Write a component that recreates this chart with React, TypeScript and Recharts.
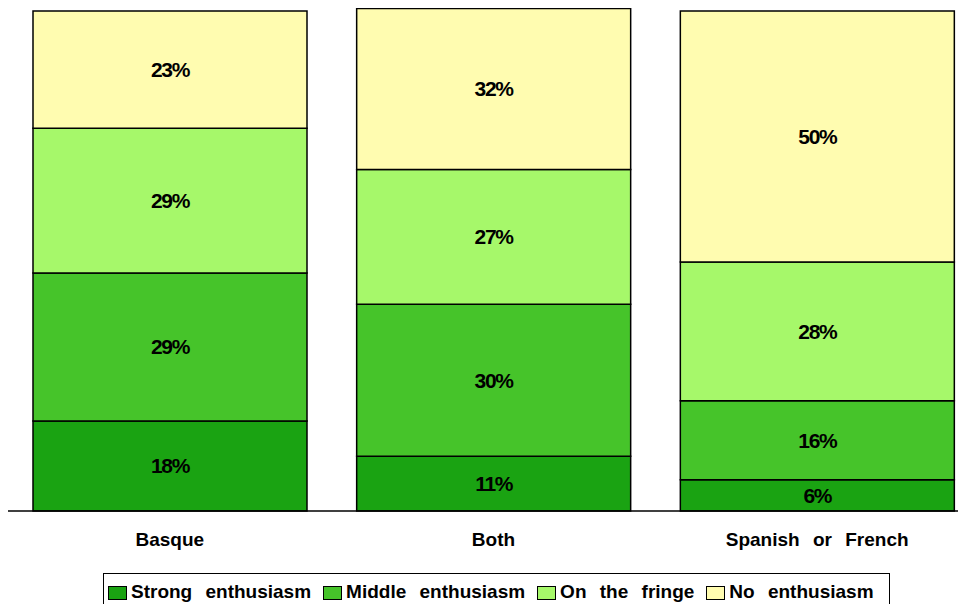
import React from 'react';
import { BarChart, Bar, XAxis, YAxis, Legend, LabelList } from 'recharts';

const categories = ['Basque', 'Both', 'Spanish or French'];
const strongEnthusiasm = [17.9, 10.9, 6.2];
const middleEnthusiasm = [29.4, 30.2, 15.7];
const onTheFringe = [28.8, 26.8, 27.6];
const noEnthusiasm = [23.3, 32.0, 49.9];

const seriesNames = ['Strong enthusiasm', 'Middle enthusiasm', 'On the fringe', 'No enthusiasm'];
const seriesKeys = ['strong', 'middle', 'fringe', 'none'];
const seriesColors = ['#1aa312', '#46c42a', '#a6f86a', '#fffcb0'];

const data = categories.map((c, i) => ({
  category: c,
  strong: strongEnthusiasm[i],
  middle: middleEnthusiasm[i],
  fringe: onTheFringe[i],
  none: noEnthusiasm[i],
}));

const FONT = '"Liberation Sans", Arial, sans-serif';

const LegendBox = () => (
  <div
    style={{
      boxSizing: 'border-box',
      width: 787,
      height: 37,
      border: '1.5px solid #000',
      display: 'flex',
      alignItems: 'flex-start',
      paddingLeft: 4,
      paddingTop: 8,
      fontFamily: FONT,
      fontWeight: 'bold',
      fontSize: 19,
      wordSpacing: 8,
      color: '#000',
      background: '#fff',
      whiteSpace: 'nowrap',
    }}
  >
    {seriesNames.map((n, i) => (
      <div key={n} style={{ display: 'flex', alignItems: 'center', marginRight: 12 }}>
        <span
          style={{
            display: 'inline-block',
            boxSizing: 'border-box',
            width: 19,
            height: 14,
            background: seriesColors[i],
            border: '1.5px solid #000',
            marginRight: 4,
            marginTop: 2,
          }}
        />
        <span style={{ lineHeight: '19px' }}>{n}</span>
      </div>
    ))}
  </div>
);

const fmt = (v: any) => `${Math.round(Number(v))}%`;

export default function App() {
  return (
    <div style={{ width: 958, height: 596, overflow: 'hidden', position: 'relative' }}>
      <BarChart
        width={971}
        height={602}
        data={data}
        margin={{ top: 0, right: 0, bottom: 0, left: 0 }}
      >
        <XAxis
          dataKey="category"
          axisLine={{ stroke: '#000', strokeWidth: 1.5 }}
          tickLine={false}
          tickSize={0}
          tickMargin={22}
          height={62}
          tick={{ fill: '#000', fontFamily: FONT, fontWeight: 'bold', fontSize: 19, style: { wordSpacing: 8 } }}
        />
        <YAxis hide domain={[0, 100]} />
        <Legend
          content={<LegendBox />}
          verticalAlign="bottom"
          wrapperStyle={{ left: 95, top: 565, width: 787, height: 37 }}
        />
        {seriesKeys.map((k, i) => (
          <Bar
            key={k}
            dataKey={k}
            name={seriesNames[i]}
            stackId="a"
            fill={seriesColors[i]}
            stroke="#000"
            strokeWidth={1.5}
            barSize={274}
            isAnimationActive={false}
          >
            <LabelList
              dataKey={k}
              position="center"
              formatter={fmt}
              fill="#000"
              fontFamily={FONT}
              fontWeight="bold"
              fontSize={21}
              letterSpacing={-1.3}
            />
          </Bar>
        ))}
      </BarChart>
    </div>
  );
}
